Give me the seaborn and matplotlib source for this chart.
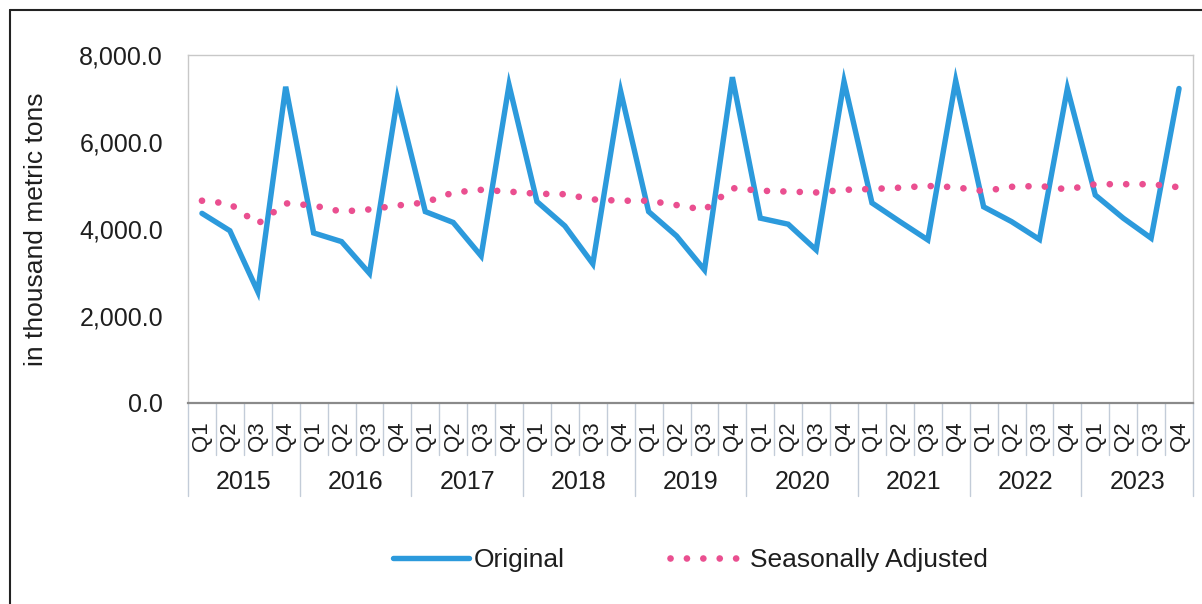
import matplotlib
matplotlib.use("Agg")
import matplotlib.pyplot as plt
import matplotlib.transforms as mtransforms
from matplotlib.lines import Line2D
import numpy as np
import pandas as pd
import seaborn as sns

# data (thousand metric tons)
years = ["2015", "2016", "2017", "2018", "2019", "2020", "2021", "2022", "2023"]
quarters = ["Q1", "Q2", "Q3", "Q4"]
original = [4360, 3960, 2560, 7270, 3910, 3710, 2980, 7000,
            4400, 4150, 3380, 7310, 4630, 4070, 3200, 7160,
            4400, 3840, 3060, 7490, 4250, 4110, 3520, 7390,
            4600, 4170, 3750, 7410, 4510, 4170, 3760, 7230,
            4780, 4250, 3790, 7230]
seas_adj = [4650, 4580, 4120, 4590, 4540, 4400, 4450, 4540,
            4610, 4840, 4900, 4860, 4810, 4800, 4680, 4650,
            4650, 4550, 4440, 4940, 4880, 4860, 4840, 4900,
            4920, 4950, 4990, 4960, 4870, 4970, 4990, 4910,
            5030, 5030, 5030, 4960]
yticks = [0, 2000, 4000, 6000, 8000]

BLUE = "#2C9ADC"
PINK = "#EA4F90"
SEP = "#C3CCD8"
TXT = "#1E1E1E"

sns.set_style("white")
plt.rcParams["font.family"] = ["Liberation Sans", "DejaVu Sans"]
FS = 18

labels = [q for y in years for q in quarters]
df = pd.DataFrame({"idx": np.arange(len(labels)), "quarter": labels,
                   "Original": original, "Seasonally Adjusted": seas_adj})

fig = plt.figure(figsize=(12.02, 6.04), dpi=100)
ax = fig.add_axes([188 / 1202, 1 - 403 / 604, 1005 / 1202, 348 / 604])

sns.lineplot(data=df, x="idx", y="Original", ax=ax, color=BLUE, lw=3.9,
             solid_joinstyle="miter", label="Original")
sns.lineplot(data=df, x="idx", y="Seasonally Adjusted", ax=ax, color=PINK, lw=4.8,
             linestyle=(0, (0.01, 2.45)), dash_capstyle="round",
             label="Seasonally Adjusted")

n = len(labels)
ax.set_xlim(-0.5, n - 0.5)
ax.set_ylim(0, 8000)
ax.set_yticks(yticks)
ax.set_yticklabels([f"{v:,.1f}" for v in yticks], fontsize=FS, color=TXT)
ax.tick_params(axis="y", length=0, pad=18)
ax.set_xticks(df["idx"])
ax.set_xticklabels(labels, rotation=90, fontsize=16, color=TXT)
ax.tick_params(axis="x", length=0, pad=13)
ax.set_xlabel("")
ax.set_ylabel("in thousand metric tons", fontsize=19, color=TXT)
ax.yaxis.set_label_coords(-0.139, 0.5)

for side in ["top", "right", "left"]:
    ax.spines[side].set_color("#C8C8C8")
    ax.spines[side].set_linewidth(1.0)
ax.spines["bottom"].set_color("#8A8A8A")
ax.spines["bottom"].set_linewidth(1.6)

# multi-level category axis: separators and year labels
trans = mtransforms.blended_transform_factory(ax.transData, ax.transAxes)
for i in range(n + 1):
    lo = -0.267 if i % 4 == 0 else -0.149
    ax.plot([i - 0.5, i - 0.5], [0, lo], transform=trans, color=SEP,
            lw=1.0, clip_on=False)
for k, yr in enumerate(years):
    ax.text(4 * k + 1.5, -0.227, yr, transform=trans, ha="center",
            va="center", fontsize=FS, color=TXT)

leg = ax.legend(loc="center", bbox_to_anchor=(0.5, -0.451), ncol=2,
                frameon=False, fontsize=19, handlelength=2.9,
                handletextpad=0.15, columnspacing=4.0)
for t in leg.get_texts():
    t.set_color(TXT)

# outer frame (left and top edges visible)
fig.add_artist(Line2D([10 / 1202, 10 / 1202], [0, 1 - 10 / 604],
                      transform=fig.transFigure, color="#222222", lw=1.5))
fig.add_artist(Line2D([10 / 1202, 1], [1 - 10 / 604, 1 - 10 / 604],
                      transform=fig.transFigure, color="#222222", lw=1.5))

fig.savefig("out.png", dpi=100)
